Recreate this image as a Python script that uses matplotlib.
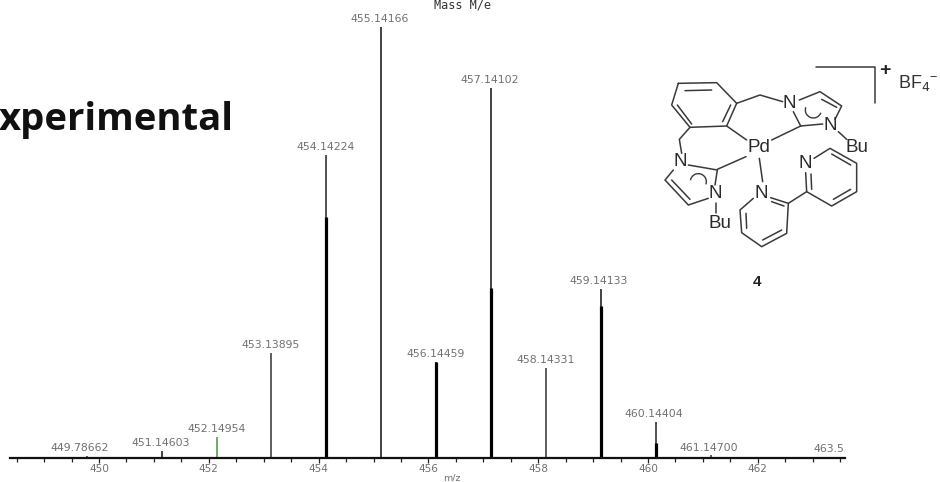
import matplotlib
matplotlib.use("Agg")
import matplotlib.pyplot as plt
from matplotlib.patches import Arc
from matplotlib.ticker import MultipleLocator

W, H = 940, 482
mz = [449.78662, 451.14603, 452.14954, 453.13895, 454.14224, 455.14166, 456.14459,
      457.14102, 458.14331, 459.14133, 460.14404, 461.14700, 463.55000]
intensity = [0.5, 1.6, 4.9, 24.4, 70.3, 100.0, 22.3, 85.8, 20.9, 39.2, 8.4, 0.6, 0.3]
labels = ["449.78662", "451.14603", "452.14954", "453.13895", "454.14224", "455.14166", "456.14459",
          "457.14102", "458.14331", "459.14133", "460.14404", "461.14700", "463.55000"]
label_nudge = [-8, -1, 0, -1, -1, -2, -1, -1, 0, -2, -2, -2, 0]
colors = ["#2f2f2f", "#111111", "#3f9a3f", "#333333", "#222222", "#111111", "#111111",
          "#111111", "#333333", "#111111", "#222222", "#333333", "#333333"]
thick_mz = [454.14224, 456.14459, 457.14102, 459.14133, 460.14404]
thick_intensity = [56.0, 22.3, 39.4, 35.3, 3.5]
major_ticks = [450, 452, 454, 456, 458, 460, 462]

BASE_Y, TOP_Y = 458, 27
LEFT, RIGHT = 10, 845
X_450, PX_PER_UNIT = 99, 54.9

fig = plt.figure(figsize=(W / 100, H / 100), dpi=100, facecolor="white")
ax = fig.add_axes([LEFT / W, 1 - BASE_Y / H, (RIGHT - LEFT) / W, BASE_Y / H])
ax.set_xlim(450 + (LEFT - X_450) / PX_PER_UNIT, 450 + (RIGHT - X_450) / PX_PER_UNIT)
ax.set_ylim(0, BASE_Y / (BASE_Y - TOP_Y) * 100)
ax.patch.set_alpha(0)
for s in ("top", "left", "right"):
    ax.spines[s].set_visible(False)
ax.spines["bottom"].set_linewidth(1.6)
ax.spines["bottom"].set_color("#111111")
ax.yaxis.set_visible(False)
ax.set_xticks(major_ticks)
ax.xaxis.set_minor_locator(MultipleLocator(0.5))
ax.tick_params(axis="x", which="major", length=3.5, width=0.9, pad=1.0, labelsize=7.6, labelcolor="#707070", color="#222222")
ax.tick_params(axis="x", which="minor", length=3.0, width=0.9, color="#222222")
for t in ax.get_xticklabels():
    t.set_fontfamily("DejaVu Sans")

ax.vlines(mz, 0, intensity, colors=colors, linewidth=1.1)
ax.vlines(thick_mz, 0, thick_intensity, colors="#000000", linewidth=2.3)
for x, y, lab, n in zip(mz, intensity, labels, label_nudge):
    ax.annotate(lab, (x, y), xytext=(n * 0.72, 2.0), textcoords="offset points", ha="center", va="bottom",
                fontsize=7.8, color="#707070", family="DejaVu Sans", annotation_clip=False,
                clip_on=True)

# overlay in pixel space for the picture text and the structural formula
ov = fig.add_axes([0, 0, 1, 1], zorder=5)
ov.set_xlim(0, W)
ov.set_ylim(H, 0)
ov.axis("off")
ov.patch.set_alpha(0)

ov.text(-1, 120, "xperimental", fontsize=27.5, fontweight="bold", family="Open Sans", ha="left", va="center", color="#111111")
ov.text(462, 5.5, "Mass M/e", fontsize=8.6, family="DejaVu Sans Mono", ha="center", va="center", color="#333333")
ov.text(452, 478, "m/z", fontsize=6.8, ha="center", va="center", color="#707070")

def P(zx, zy):
    return 640 + zx / 3, 50 + zy / 3

bonds = [
    # benzene ring
    [(115, 100), (230, 98), (290, 160), (260, 228), (150, 232), (95, 165), (115, 100)],
    [(135, 122), (215, 120)], [(272, 165), (248, 215)], [(112, 165), (155, 222)],
    # right arm and imidazole
    [(290, 160), (360, 135), (428, 155)],
    [(478, 150), (540, 125), (605, 168), (585, 208)],
    [(545, 148), (590, 172)],
    [(460, 185), (482, 228), (548, 222)],
    [(482, 228), (395, 270)], [(260, 228), (320, 270)],
    [(595, 245), (620, 268)],
    # left arm and imidazole
    [(150, 232), (118, 268), (125, 310)],
    [(145, 345), (232, 360), (225, 405)],
    [(100, 360), (75, 390), (145, 465), (205, 445)],
    [(95, 390), (150, 448)],
    [(232, 358), (318, 320)],
    [(228, 458), (228, 490)],
    # bipyridine
    [(358, 325), (368, 395)],
    [(340, 445), (300, 480), (305, 548), (365, 590), (440, 550), (445, 460), (392, 443)],
    [(318, 490), (320, 535)], [(368, 570), (425, 540)], [(395, 455), (432, 468)],
    [(445, 460), (500, 425), (575, 468), (650, 425), (650, 340), (570, 295), (522, 325)],
    [(500, 425), (497, 368)], [(515, 418), (513, 372)], [(580, 448), (632, 418)], [(575, 312), (632, 345)],
    # bracket
    [(528, 52), (705, 52), (705, 158)],
]
for b in bonds:
    pts = [P(*p) for p in b]
    ov.plot([p[0] for p in pts], [p[1] for p in pts], color="#3a3a3a", lw=1.1, solid_capstyle="round")

for cx, cy, th1, th2 in [(520, 180, 20, 200), (175, 395, 190, 20)]:
    x, y = P(cx, cy)
    ov.add_patch(Arc((x, y), 16, 16, theta1=th1, theta2=th2, color="#3a3a3a", lw=1.0))

atoms = [("N", 447, 162), ("N", 572, 228), ("Bu", 650, 292), ("Pd", 358, 293), ("N", 122, 335),
         ("N", 226, 432), ("Bu", 240, 522), ("N", 364, 430), ("N", 497, 342)]
for s, zx, zy in atoms:
    x, y = P(zx, zy)
    ov.text(x, y, s, fontsize=13.5, family="Liberation Sans", ha="center", va="center", color="#2a2a2a")

x, y = P(733, 60)
ov.text(x, y, "+", fontsize=14, fontweight="bold", family="Liberation Sans", ha="center", va="center", color="#222222")
x, y = P(835, 100)
ov.text(x, y, "BF$_4$$^{\\mathregular{-}}$", fontsize=13, family="Liberation Sans", ha="center", va="center", color="#333333", math_fontfamily="custom")
x, y = P(352, 695)
ov.text(x, y, "4", fontsize=11, family="Liberation Sans", fontweight="bold", ha="center", va="center", color="#222222")

fig.savefig("out.png", dpi=100, facecolor="white")
